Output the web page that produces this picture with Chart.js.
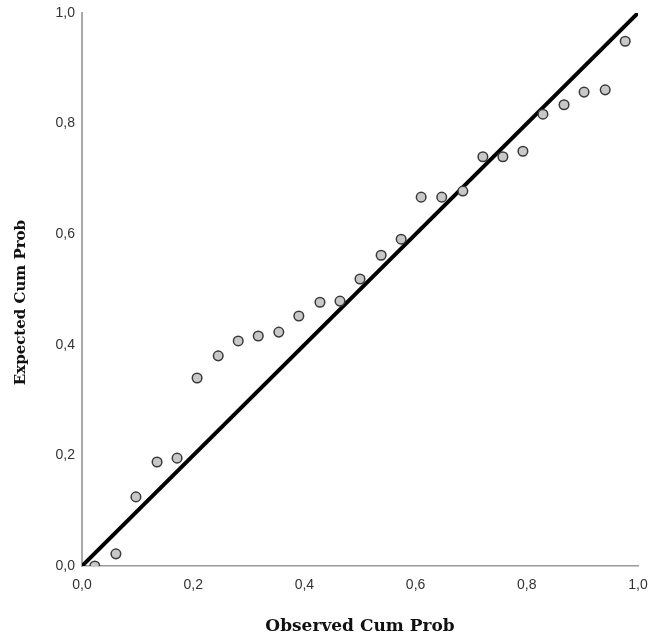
<!DOCTYPE html>
<html>
<head>
<meta charset="utf-8">
<script src="https://cdn.jsdelivr.net/npm/chart.js"></script>
<style>
  html, body { margin: 0; padding: 0; background: #fff; }
  #wrap { width: 652px; height: 642px; position: relative; }
</style>
</head>
<body>
<div id="wrap"><canvas id="ppChart"></canvas></div>
<script>
// P-P plot: observed vs expected cumulative probability
const observedCum = [0.023, 0.061, 0.097, 0.135, 0.171, 0.207, 0.245, 0.281, 0.317,
  0.354, 0.390, 0.428, 0.464, 0.500, 0.538, 0.574, 0.610, 0.647, 0.685,
  0.721, 0.757, 0.793, 0.829, 0.867, 0.903, 0.941, 0.977];
const expectedCum = [0.000, 0.022, 0.125, 0.188, 0.195, 0.340, 0.380, 0.407, 0.416,
  0.423, 0.452, 0.477, 0.479, 0.519, 0.562, 0.591, 0.667, 0.667, 0.678,
  0.740, 0.740, 0.750, 0.817, 0.834, 0.857, 0.861, 0.949];
const refLineX = [0, 1];
const refLineY = [0, 1];
const axisTicks = [0, 0.2, 0.4, 0.6, 0.8, 1.0];

const fmt = v => v.toFixed(1).replace('.', ',');
const tickFont = { family: 'Liberation Sans, Arial, sans-serif', size: 14 };

const ctx = document.getElementById('ppChart').getContext('2d');
new Chart(ctx, {
  type: 'scatter',
  data: {
    datasets: [
      {
        label: 'Observed',
        data: observedCum.map((x, i) => ({ x: x, y: expectedCum[i] })),
        pointRadius: 4.8,
        pointBackgroundColor: '#c8c8c8',
        pointBorderColor: '#3a3a3a',
        pointBorderWidth: 1.5,
        clip: 0
      },
      {
        label: 'Reference',
        data: refLineX.map((x, i) => ({ x: x, y: refLineY[i] })),
        showLine: true,
        borderColor: '#000',
        borderWidth: 4,
        pointRadius: 0
      }
    ]
  },
  options: {
    responsive: true,
    maintainAspectRatio: false,
    animation: false,
    events: [],
    layout: { padding: { top: 13, right: 14, left: 0, bottom: 0 } },
    plugins: {
      legend: { display: false },
      tooltip: { enabled: false }
    },
    scales: {
      x: {
        type: 'linear',
        min: 0,
        max: 1,
        afterBuildTicks: s => { s.ticks = axisTicks.map(v => ({ value: v })); },
        afterFit: s => { s.height = 76; s.paddingLeft = 0; s.paddingRight = 0; },
        grid: { display: false, drawTicks: false },
        border: { color: '#9a9a9a', width: 1.5 },
        ticks: { color: '#333', font: tickFont, padding: 11, callback: fmt, maxRotation: 0 },
        title: {
          display: true,
          text: 'Observed Cum Prob',
          color: '#111',
          font: { family: 'DejaVu Serif, serif', size: 17, weight: 'bold' },
          padding: { top: 0, bottom: 5 }
        }
      },
      y: {
        type: 'linear',
        min: 0,
        max: 1,
        afterBuildTicks: s => { s.ticks = axisTicks.map(v => ({ value: v })); },
        afterFit: s => { s.width = 82; s.paddingTop = 0; s.paddingBottom = 0; },
        grid: { display: false, drawTicks: false },
        border: { color: '#a8a8a8', width: 2 },
        ticks: { color: '#333', font: tickFont, padding: 7, callback: fmt },
        title: {
          display: true,
          text: 'Expected Cum Prob     ',
          color: '#111',
          font: { family: 'DejaVu Serif, serif', size: 15, weight: 'bold' },
          padding: { top: 12, bottom: 0 }
        }
      }
    }
  }
});
</script>
</body>
</html>
